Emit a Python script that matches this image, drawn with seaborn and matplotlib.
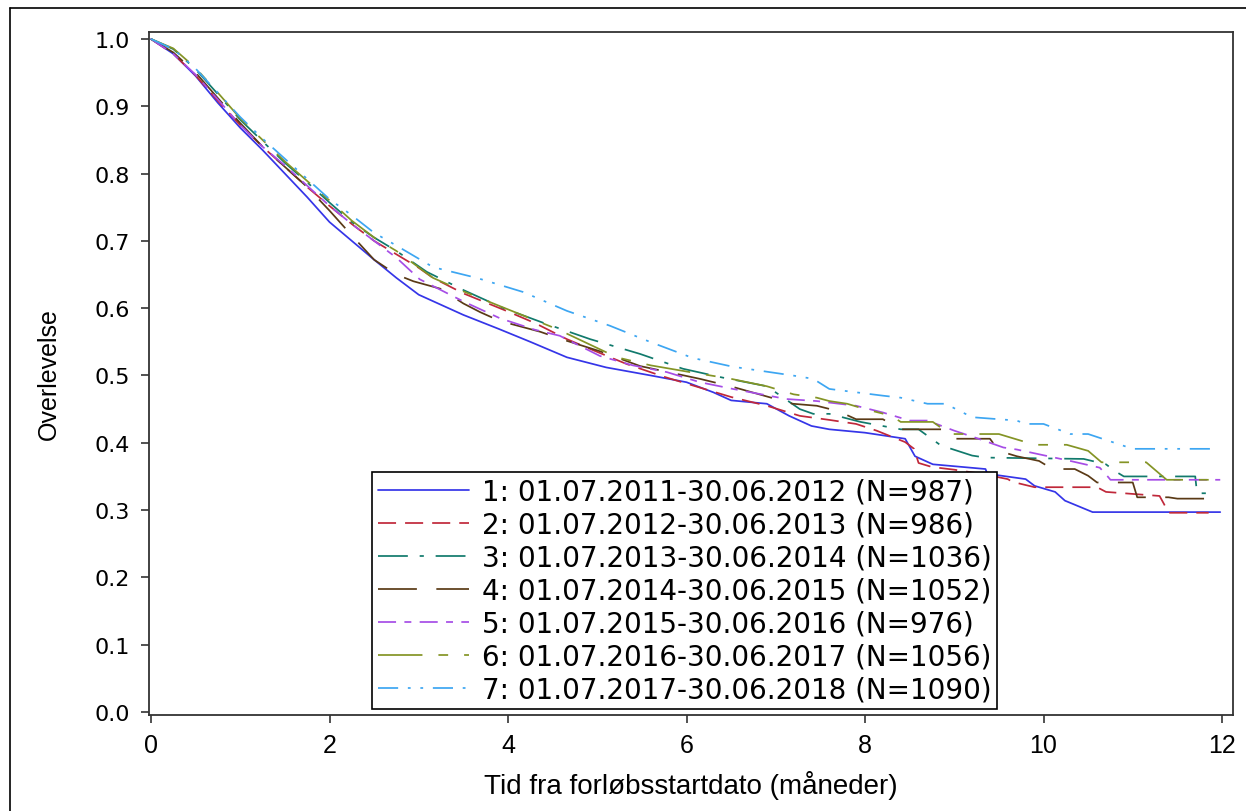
import seaborn as sns
import matplotlib.pyplot as plt
from matplotlib.lines import Line2D

# Kaplan-Meier curves, values
t1 = [0, 0.25, 0.5, 0.75, 1.0, 1.25, 1.5, 1.75, 2.0, 2.25, 2.5, 2.75, 3.0, 3.5, 3.9, 4.25, 4.66, 5.1,
      5.6, 6.0, 6.3, 6.5, 6.9, 7.15, 7.4, 7.6, 8.0, 8.45, 8.56, 8.76, 9.35, 9.37, 9.8, 9.9, 10.13,
      10.24, 10.55, 11.98]
s1 = [1.0, 0.978, 0.945, 0.905, 0.868, 0.835, 0.80, 0.765, 0.728, 0.70, 0.672, 0.645, 0.62, 0.59,
      0.569, 0.55, 0.527, 0.512, 0.50, 0.49, 0.475, 0.463, 0.458, 0.44, 0.425, 0.42, 0.415, 0.406,
      0.38, 0.368, 0.361, 0.354, 0.346, 0.336, 0.327, 0.314, 0.297, 0.297]

t2 = [0, 0.25, 0.5, 0.75, 1.0, 1.25, 1.5, 1.75, 2.0, 2.25, 2.5, 2.75, 3.0, 3.16, 3.5, 4.0, 4.3, 4.66,
      5.0, 5.33, 5.75, 6.15, 6.5, 6.9, 7.27, 7.6, 7.9, 8.13, 8.45, 8.55, 8.6, 8.75, 9.0, 9.3, 9.6,
      9.65, 9.9, 10.6, 10.7, 11.3, 11.35, 11.4, 11.85]
s2 = [1.0, 0.978, 0.946, 0.908, 0.872, 0.84, 0.81, 0.78, 0.752, 0.725, 0.70, 0.68, 0.66, 0.645,
      0.622, 0.595, 0.578, 0.554, 0.535, 0.517, 0.498, 0.482, 0.468, 0.455, 0.44, 0.434, 0.428,
      0.418, 0.401, 0.391, 0.37, 0.364, 0.36, 0.354, 0.346, 0.342, 0.334, 0.334, 0.327, 0.321,
      0.309, 0.296, 0.296]

t3 = [0, 0.25, 0.5, 0.75, 1.0, 1.25, 1.5, 1.75, 2.0, 2.25, 2.5, 2.75, 3.09, 3.5, 3.95, 4.4, 4.92,
      5.48, 5.96, 6.4, 6.9, 7.27, 7.42, 7.6, 7.95, 8.4, 8.6, 8.85, 9.2, 9.35, 10.45, 10.7, 10.8,
      10.9, 11.7, 11.72, 11.95]
s3 = [1.0, 0.985, 0.955, 0.918, 0.88, 0.848, 0.816, 0.787, 0.757, 0.728, 0.705, 0.685, 0.654,
      0.627, 0.60, 0.578, 0.554, 0.532, 0.51, 0.497, 0.484, 0.45, 0.443, 0.443, 0.431, 0.42, 0.42,
      0.396, 0.381, 0.378, 0.376, 0.368, 0.358, 0.35, 0.35, 0.325, 0.325]

t4 = [0, 0.25, 0.5, 0.75, 1.0, 1.25, 1.5, 1.75, 2.0, 2.25, 2.5, 2.75, 2.94, 3.24, 3.5, 3.69, 3.91,
      4.36, 4.6, 5.03, 5.48, 6.15, 6.52, 7.19, 7.46, 7.7, 7.9, 8.2, 8.4, 8.9, 9.0, 9.4, 9.5, 9.7,
      9.95, 10.1, 10.35, 10.5, 10.6, 11.0, 11.05, 11.4, 11.5, 11.98]
s4 = [1.0, 0.98, 0.95, 0.912, 0.875, 0.84, 0.81, 0.78, 0.745, 0.708, 0.672, 0.65, 0.64, 0.629,
      0.607, 0.594, 0.581, 0.565, 0.554, 0.536, 0.514, 0.495, 0.483, 0.458, 0.455, 0.447, 0.435,
      0.435, 0.42, 0.42, 0.406, 0.406, 0.388, 0.38, 0.373, 0.361, 0.361, 0.351, 0.341, 0.341,
      0.319, 0.319, 0.317, 0.317]

t5 = [0, 0.25, 0.5, 0.75, 1.0, 1.25, 1.5, 1.75, 2.0, 2.25, 2.5, 2.75, 3.01, 3.5, 3.91, 4.3, 4.58,
      5.03, 5.4, 5.78, 6.15, 6.52, 7.12, 7.46, 7.9, 8.2, 8.5, 8.7, 9.0, 9.25, 9.55, 9.7, 10.3,
      10.63, 10.7, 10.75, 11.98]
s5 = [1.0, 0.978, 0.947, 0.91, 0.872, 0.84, 0.812, 0.782, 0.752, 0.725, 0.70, 0.675, 0.643, 0.61,
      0.585, 0.568, 0.559, 0.529, 0.515, 0.505, 0.49, 0.48, 0.465, 0.462, 0.455, 0.445, 0.433,
      0.433, 0.418, 0.407, 0.393, 0.39, 0.373, 0.363, 0.353, 0.345, 0.345]

t6 = [0, 0.25, 0.5, 0.75, 1.0, 1.25, 1.5, 1.75, 2.0, 2.25, 2.5, 2.75, 3.16, 3.5, 3.91, 4.55, 5.22,
      5.6, 6.04, 6.5, 6.9, 7.2, 7.46, 7.6, 7.8, 8.0, 8.3, 8.4, 8.76, 8.95, 9.5, 9.65, 9.9, 10.26,
      10.5, 10.65, 11.15, 11.38, 11.95]
s6 = [1.0, 0.986, 0.957, 0.92, 0.882, 0.85, 0.818, 0.789, 0.76, 0.73, 0.705, 0.685, 0.645, 0.625,
      0.603, 0.569, 0.527, 0.515, 0.505, 0.495, 0.484, 0.472, 0.467, 0.462, 0.458, 0.45, 0.44,
      0.431, 0.431, 0.413, 0.413, 0.407, 0.397, 0.397, 0.388, 0.371, 0.371, 0.345, 0.345]

t7 = [0, 0.25, 0.5, 0.75, 1.0, 1.25, 1.5, 1.75, 2.0, 2.25, 2.5, 2.75, 3.16, 3.65, 4.17, 4.66, 5.14,
      5.59, 6.07, 6.52, 7.19, 7.42, 7.6, 8.2, 8.4, 8.7, 8.9, 9.2, 9.7, 9.8, 10.0, 10.3, 10.5, 11.0,
      11.92]
s7 = [1.0, 0.985, 0.956, 0.92, 0.884, 0.852, 0.822, 0.792, 0.762, 0.738, 0.712, 0.693, 0.661,
      0.645, 0.624, 0.596, 0.574, 0.55, 0.526, 0.513, 0.50, 0.495, 0.48, 0.47, 0.467, 0.458, 0.458,
      0.438, 0.433, 0.428, 0.428, 0.413, 0.413, 0.391, 0.391]

labels = ["1: 01.07.2011-30.06.2012 (N=987)",
          "2: 01.07.2012-30.06.2013 (N=986)",
          "3: 01.07.2013-30.06.2014 (N=1036)",
          "4: 01.07.2014-30.06.2015 (N=1052)",
          "5: 01.07.2015-30.06.2016 (N=976)",
          "6: 01.07.2016-30.06.2017 (N=1056)",
          "7: 01.07.2017-30.06.2018 (N=1090)"]

colors = ['#3535E8', '#C0283A', '#117A6C', '#5A3A16', '#A64DE6', '#849425', '#3DA6F2']
styles = ['-', (0, (13, 6.5)), (0, (21.5, 8.5, 3, 8.5)), (0, (28, 14)),
          (0, (13, 6, 5, 6)), (0, (32, 11.5, 7, 11.5)), (0, (14.5, 7, 2, 7, 2, 7))]

sns.set_theme(style='ticks')
plt.rcParams['font.family'] = ['DejaVu Sans']
plt.rcParams['lines.scale_dashes'] = False
plt.rcParams['text.color'] = 'black'
plt.rcParams['axes.labelcolor'] = 'black'
plt.rcParams['xtick.color'] = 'black'
plt.rcParams['ytick.color'] = 'black'

narrow = ['Liberation Sans Narrow', 'DejaVu Sans Condensed', 'Liberation Sans']

fig = plt.figure(figsize=(12.46, 8.12), dpi=100)
ax = fig.add_axes([149 / 1246, 96 / 812, 1084 / 1246, 683 / 812])

series = [(t1, s1), (t2, s2), (t3, s3), (t4, s4), (t5, s5), (t6, s6), (t7, s7)]
for (t, s), lab, c, ls in zip(series, labels, colors, styles):
    sns.lineplot(x=t, y=s, ax=ax, color=c, label=lab, linestyle=ls,
                 linewidth=1.25, estimator=None, errorbar=None)

ax.set_xlim(-0.0224, 12.123)
ax.set_ylim(-0.0045, 1.0104)
ax.set_xticks(range(0, 13, 2))
ax.set_yticks([i / 10 for i in range(11)])
ax.set_yticklabels([f"{i / 10:.1f}" for i in range(11)], fontsize=16)
ax.set_xticklabels([str(v) for v in range(0, 13, 2)], family=narrow, fontsize=18)
ax.tick_params(axis='y', length=6, width=1.1, pad=8, color='#222222')
ax.tick_params(axis='x', length=6, width=1.1, pad=7, color='#222222')
for sp in ax.spines.values():
    sp.set_visible(True)
    sp.set_linewidth(1.3)
    sp.set_color('#333333')

ax.set_xlabel("Tid fra forløbsstartdato (måneder)", family=narrow, fontsize=20, labelpad=9)
ax.set_ylabel("Overlevelse", family=narrow, fontsize=18, labelpad=24)

leg = ax.legend(loc='lower left', bbox_to_anchor=(0.2057, 0.0088), borderaxespad=0,
                frameon=True, fancybox=False, edgecolor='black', framealpha=1,
                prop={'family': 'DejaVu Sans', 'size': 20}, handlelength=3.3,
                handletextpad=0.45, labelspacing=0.18, borderpad=0.2,
                labelcolor='black')
leg.get_frame().set_linewidth(1.2)

# outer frame of the picture (left and top edge)
fig.add_artist(Line2D([10 / 1246, 10 / 1246], [0, 1 - 9 / 812], transform=fig.transFigure,
                      color='black', lw=1.2))
fig.add_artist(Line2D([10 / 1246, 1], [1 - 9 / 812, 1 - 9 / 812], transform=fig.transFigure,
                      color='black', lw=1.2))

fig.savefig('out.png', dpi=100)
